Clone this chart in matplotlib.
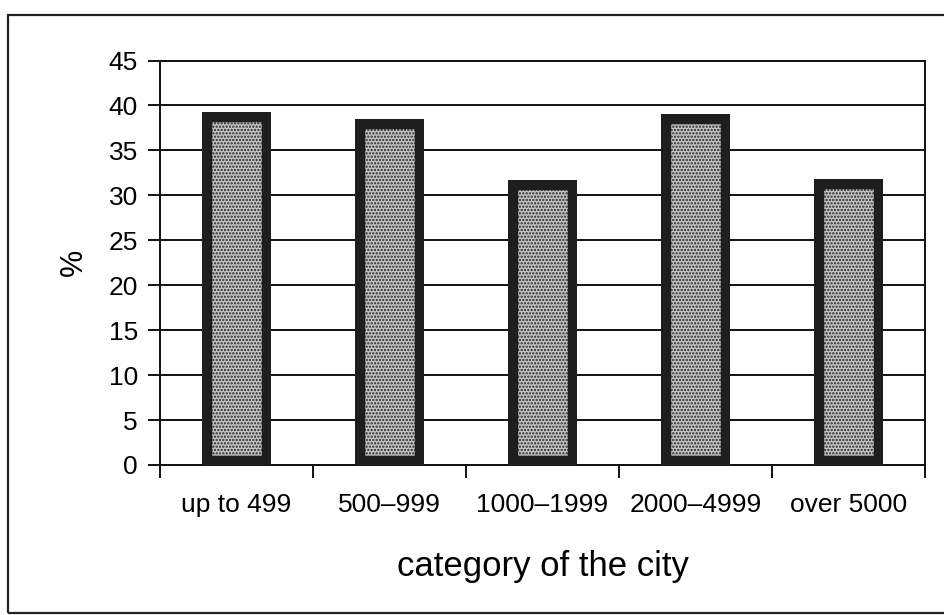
import matplotlib
matplotlib.use("Agg")
import matplotlib.pyplot as plt
from matplotlib.patches import Rectangle

categories = ["up to 499", "500\u2013999", "1000\u20131999", "2000\u20134999", "over 5000"]
values = [39.3, 38.5, 31.7, 39.0, 31.8]
y_ticks = [0, 5, 10, 15, 20, 25, 30, 35, 40, 45]

plt.rcParams['font.family'] = ['Liberation Sans', 'DejaVu Sans']
plt.rcParams['hatch.linewidth'] = 1.1

fig = plt.figure(figsize=(9.44, 6.15), dpi=100)
ax = fig.add_axes([160/944, 1-465/615, (925-160)/944, (465-60.5)/615])

x = list(range(len(categories)))
width = 0.457

# stippled fill
ax.bar(x, values, width=width, facecolor='#c4c4c4', edgecolor='#262626',
       hatch='.....', linewidth=0, zorder=3)
# thick inner border
outline = ax.bar(x, values, width=width, facecolor='none', edgecolor='#1e1e1e',
                 linewidth=14, zorder=4)
for p in outline:
    p.set_clip_path(p)

ax.set_xlim(-0.5, len(categories) - 0.5)
ax.set_ylim(0, 45)
ax.set_yticks(y_ticks)
ax.set_yticklabels([str(v) for v in y_ticks], fontsize=19)
ax.yaxis.grid(True, color='#111111', linewidth=1.4)
ax.set_axisbelow(True)

ax.set_xticks(x)
ax.set_xticklabels(categories, fontsize=19)
ax.tick_params(axis='x', which='major', length=0, pad=20)
ax.set_xticks([i - 0.5 for i in range(len(categories) + 1)], minor=True)
ax.tick_params(axis='x', which='minor', length=9, width=1.4, direction='out', color='#111111')
ax.tick_params(axis='y', length=9, width=1.4, direction='out', color='#111111', pad=7)

for s in ['left', 'right', 'bottom', 'top']:
    ax.spines[s].set_linewidth(1.4)
    ax.spines[s].set_color('#111111')

ax.set_xlabel("category of the city", fontsize=25, labelpad=24)
ax.set_ylabel("%", fontsize=22, labelpad=14)

# outer frame of the figure
frame = Rectangle((8/944, 1-613/615), 1.05, (613-15)/615, transform=fig.transFigure,
                  fill=False, edgecolor='#222222', linewidth=1.6, clip_on=False)
fig.patches.append(frame)

fig.savefig("out.png", dpi=100, facecolor='white')
